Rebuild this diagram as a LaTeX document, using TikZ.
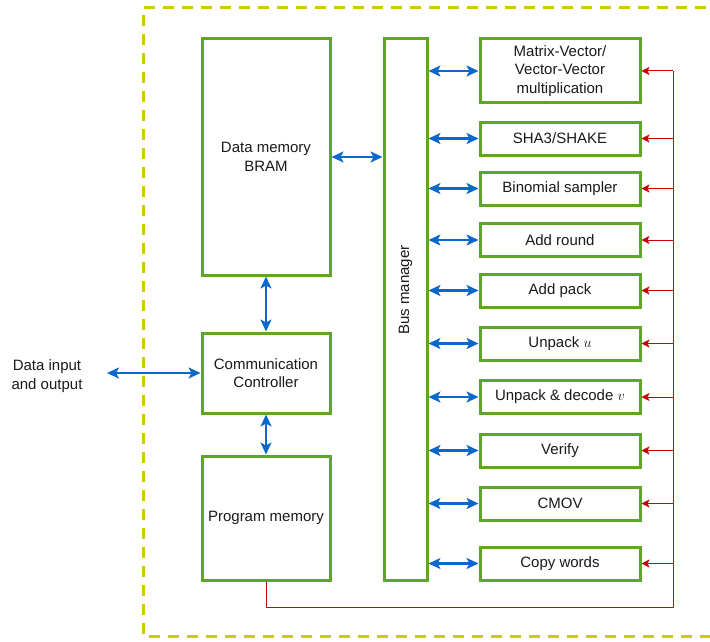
\documentclass[tikz,border=0pt]{standalone}
\usepackage{fontspec}
\setmainfont{Liberation Sans}
\usetikzlibrary{arrows.meta,positioning}
\definecolor{gbox}{HTML}{5FA52A}
\definecolor{bl}{HTML}{0A68CC}
\definecolor{rd}{HTML}{CC0000}
\definecolor{yl}{HTML}{CCCC00}
\definecolor{tx}{HTML}{1A1A1A}
\begin{document}
\begin{tikzpicture}[x=1pt,y=-1pt,
  blk/.style={draw=gbox,line width=3pt,fill=white,inner sep=0pt,text=tx,align=center,font=\fontsize{15}{18.5}\selectfont},
  barrow/.style={draw=bl,line width=2.4pt,{Stealth[length=12pt,width=11pt,inset=3pt]}-{Stealth[length=12pt,width=11pt,inset=3pt]}},
  rarrow/.style={draw=rd,line width=1pt,-{Stealth[length=8pt,width=8pt,inset=2pt]}},
  rline/.style={draw=rd,line width=1pt}]
\useasboundingbox (0,0) rectangle (710,642);
\draw[yl,line width=3pt,dash pattern=on 11pt off 8pt] (725,8) -- (143,8) -- (143,636) -- (725,636);

% left column
\node[blk,minimum width=128pt,minimum height=236pt] (dm) at (266,157) {Data memory\\BRAM};
\node[blk,minimum width=128pt,minimum height=80pt] (cc) at (266,373) {Communication\\Controller};
\node[blk,minimum width=128pt,minimum height=124pt] (pm) at (266,518) {Program memory};
\node[blk,minimum width=43pt,minimum height=541pt] (bus) at (405.5,309.5) {};
\node[rotate=90,text=tx,font=\fontsize{15}{18.5}\selectfont] (busl) at (405.5,290) {Bus manager};
\node[text=tx,align=center,font=\fontsize{15}{18.5}\selectfont] (io) at (47,376) {Data input\\and output};
\coordinate (ioe) at (107,373);

% right column
\node[blk,minimum width=160pt,minimum height=64pt] (mv) at (560,71) {Matrix-Vector/\\Vector-Vector\\multiplication};
\node[blk,minimum width=160pt,minimum height=33pt] (sha) at (560,138.5) {SHA3/SHAKE};
\node[blk,minimum width=160pt,minimum height=33pt] (bin) at (560,188.5) {Binomial sampler};
\node[blk,minimum width=160pt,minimum height=33pt] (ar) at (560,240) {Add round};
\node[blk,minimum width=160pt,minimum height=33pt] (ap) at (560,290.5) {Add pack};
\node[blk,minimum width=160pt,minimum height=33pt] (uu) at (560,343.5) {Unpack $u$};
\node[blk,minimum width=160pt,minimum height=33pt] (ud) at (560,397) {Unpack \& decode $v$};
\node[blk,minimum width=160pt,minimum height=33pt] (ve) at (560,450.5) {Verify};
\node[blk,minimum width=160pt,minimum height=33pt] (cm) at (560,503.5) {CMOV};
\node[blk,minimum width=160pt,minimum height=33pt] (cw) at (560,563.5) {Copy words};

% blue connections
\draw[barrow] (dm.east) -- (dm.east -| bus.west);
\draw[barrow] (dm.south) -- (cc.north);
\draw[barrow] (cc.south) -- (pm.north);
\draw[barrow] (ioe) -- (cc.west |- ioe);
\foreach \n in {mv,sha,bin,ar,ap,uu,ud,ve,cm,cw}{
  \draw[barrow] (\n.west -| bus.east) -- (\n.west);
}

% red control lines
\coordinate (rc) at (673,607);
\coordinate (rt) at (673,71);
\draw[rline] (pm.south) -- (pm.south |- rc) -- (rc) -- (rt);
\foreach \n in {mv,sha,bin,ar,ap,uu,ud,ve,cm,cw}{
  \draw[rarrow] (\n.east -| rc) -- (\n.east);
}
\end{tikzpicture}
\end{document}
